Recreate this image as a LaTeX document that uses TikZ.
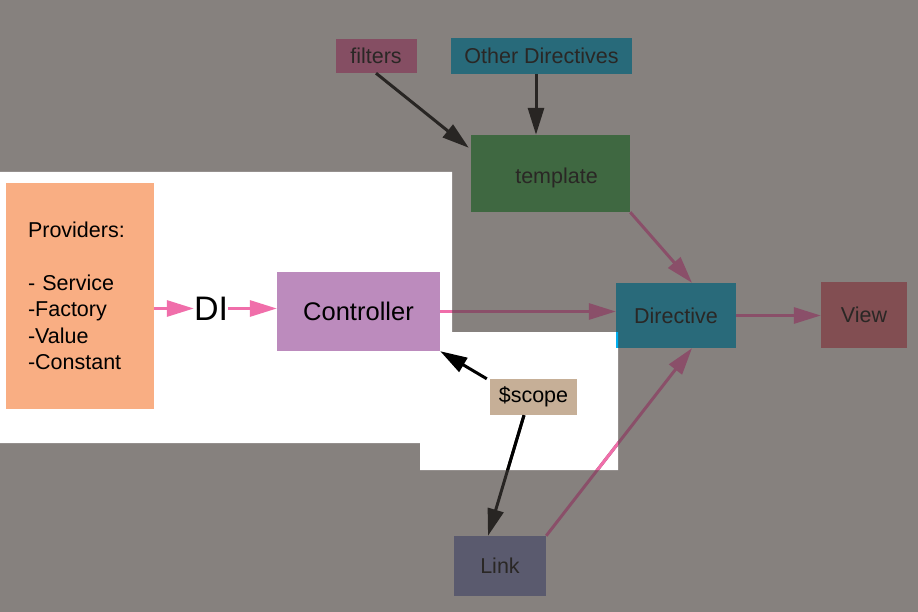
\documentclass[tikz,border=0pt]{standalone}
\usepackage{fontspec}
\setmainfont{Liberation Sans}
\usetikzlibrary{arrows.meta,calc}
\definecolor{bgc}{RGB}{134,129,126}
\definecolor{filtersc}{RGB}{133,78,99}
\definecolor{otherc}{RGB}{40,106,122}
\definecolor{templatec}{RGB}{63,104,65}
\definecolor{providersc}{RGB}{249,174,131}
\definecolor{controllerc}{RGB}{188,139,189}
\definecolor{directivec}{RGB}{41,106,122}
\definecolor{viewc}{RGB}{130,78,82}
\definecolor{scopec}{RGB}{198,175,151}
\definecolor{linkc}{RGB}{90,90,110}
\definecolor{pinkb}{RGB}{240,110,170}
\definecolor{pinkm}{RGB}{138,79,105}
\definecolor{blackm}{RGB}{40,37,35}
\definecolor{dimtext}{RGB}{42,39,37}
\definecolor{cyanb}{RGB}{0,174,239}
\begin{document}
\begin{tikzpicture}[x=1pt,y=-1pt,
  boxnode/.style={rectangle, inner sep=0pt, draw=none, text=dimtext,
    font=\fontsize{21.5}{26}\selectfont},
  litbox/.style={boxnode, text=black},
  conn/.style={line width=3pt, -{Triangle[length=27pt,width=16pt]}},
  mutedpink/.style={conn, draw=pinkm, fill=pinkm},
  brightpink/.style={conn, draw=pinkb, fill=pinkb},
  mutedblack/.style={conn, draw=blackm, fill=blackm},
  brightblack/.style={conn, draw=black, fill=black}]
\useasboundingbox (0,0) rectangle (918,612);
\fill[bgc] (0,0) rectangle (918,612);
\fill[white] (0,172) -- (452,172) -- (452,332) -- (618,332) -- (618,470)
  -- (420,470) -- (420,443) -- (0,443) -- cycle;

\node[boxnode, fill=filtersc, minimum width=81pt, minimum height=34pt] (filters) at (376,56) {filters};
\node[boxnode, fill=otherc, minimum width=181pt, minimum height=36pt] (other) at (541.5,56) {Other Directives};
\node[boxnode, fill=templatec, minimum width=159pt, minimum height=77pt] (template) at (550.5,173.5) {\hspace{12pt}\raisebox{-4pt}[\height][\depth]{template}};
\node[litbox, fill=providersc, minimum width=148pt, minimum height=226pt, align=left,
  text width=104pt, font=\fontsize{21.5}{26.5}\selectfont] (providers) at (80,296)
  {Providers:\\[26.5pt]- Service\\-Factory\\-Value\\-Constant};
\node[litbox, font=\fontsize{34}{40}\selectfont] (di) at (211,308.5) {DI};
\node[litbox, fill=controllerc, minimum width=163pt, minimum height=79pt,
  font=\fontsize{25.5}{30}\selectfont] (controller) at (358.5,311.5) {Controller};
\node[boxnode, fill=directivec, minimum width=120pt, minimum height=65pt] (directive) at (676,315.5) {Directive};
\node[boxnode, fill=viewc, minimum width=86pt, minimum height=66pt] (view) at (864,315) {View};
\node[litbox, fill=scopec, minimum width=87pt, minimum height=36pt] (scope) at (533.5,397) {\$scope};
\node[boxnode, fill=linkc, minimum width=92pt, minimum height=60pt] (link) at (500,566) {Link};

% connectors (muted, outside the highlight)
\draw[mutedblack] (filters.south) -- ($(template.north west)+(-2,13)$);
\draw[mutedblack] ([xshift=-5.5pt]other.south) -- ([xshift=-14.5pt]template.north);
\draw[mutedpink] (template.south east) -- ([xshift=16pt]directive.north);
\draw[mutedpink] (controller.east) -- (controller.east -| directive.west);
\draw[mutedpink] (directive.east) -- (directive.east -| view.west);
\draw[mutedpink] (link.north east) -- ([xshift=16pt]directive.south);
\draw[mutedblack] ([xshift=-9.5pt]scope.south) -- ([xshift=-12pt]link.north);

% connectors inside the highlight
\draw[brightpink] (di.west -| providers.east) -- (di.west);
\draw[brightpink] (di.east) -- (di.east -| controller.west);
\draw[brightblack] ([xshift=-3pt]scope.north west) -- (controller.south east);
\begin{scope}
  \clip (0,172) -- (452,172) -- (452,332) -- (618,332) -- (618,470)
    -- (420,470) -- (420,443) -- (0,443) -- cycle;
  \fill[cyanb] (directive.south west) rectangle (directive.north east);
  \draw[brightpink] (controller.east) -- (controller.east -| directive.west);
  \draw[brightpink] (link.north east) -- ([xshift=16pt]directive.south);
  \draw[brightblack] ([xshift=-9.5pt]scope.south) -- ([xshift=-12pt]link.north);
\end{scope}
\end{tikzpicture}
\end{document}
